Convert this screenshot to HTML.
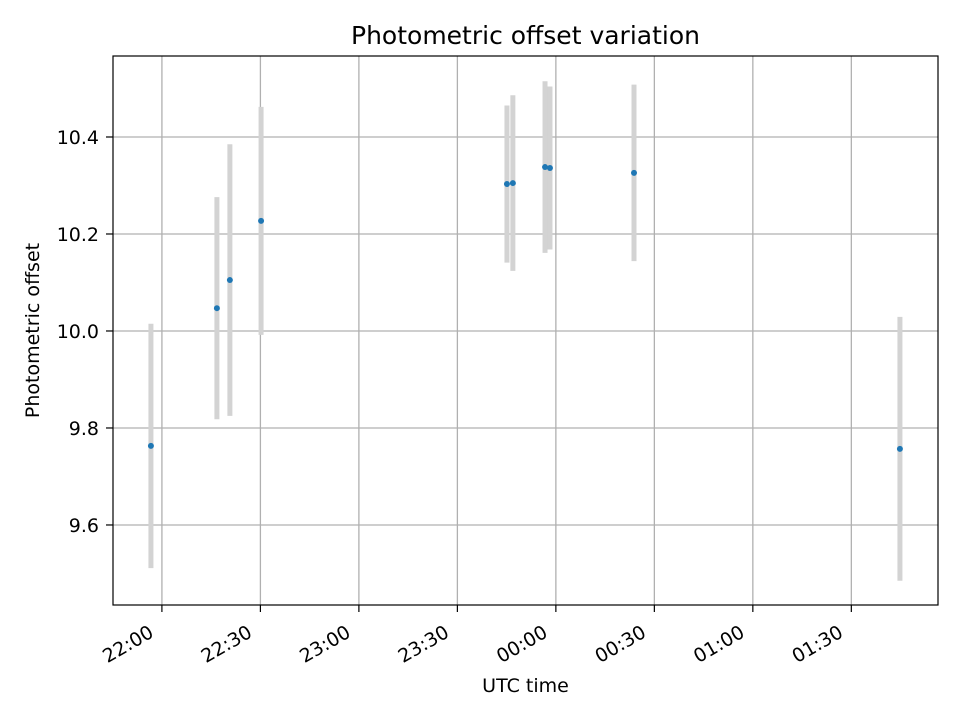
<!DOCTYPE html>
<html><head><meta charset="utf-8"><style>
html,body{margin:0;padding:0;background:#fff;}
svg{display:block;font-family:"DejaVu Sans","Liberation Sans",sans-serif;}
</style></head><body>
<svg id="chart" width="960" height="720" viewBox="0 0 960 720" xmlns="http://www.w3.org/2000/svg"></svg>
<script>
// minutes after 22:00
const times = [-3.35, 16.75, 20.7, 30.2, 105.1, 106.9, 116.7, 118.2, 143.8, 224.8];
const offsets = [9.763, 10.047, 10.105, 10.227, 10.303, 10.305, 10.338, 10.336, 10.326, 9.757];
const errors = [0.252, 0.229, 0.28, 0.235, 0.162, 0.181, 0.177, 0.168, 0.182, 0.272];
const xTickVals = [0, 30, 60, 90, 120, 150, 180, 210];
const xTickLabels = ["22:00","22:30","23:00","23:30","00:00","00:30","01:00","01:30"];
const yTickVals = [9.6, 9.8, 10.0, 10.2, 10.4];
const yTickLabels = ["9.6","9.8","10.0","10.2","10.4"];

const L=113,R=938,T=56,B=605;
const xMin=-14.9,xMax=236.4,yMin=9.435,yMax=10.567;
const sx=v=>L+(v-xMin)/(xMax-xMin)*(R-L);
const sy=v=>B-(v-yMin)/(yMax-yMin)*(B-T);
const svg=document.getElementById('chart');
const NS='http://www.w3.org/2000/svg';
function mk(tag,attrs,parent){const e=document.createElementNS(NS,tag);for(const k in attrs)e.setAttribute(k,attrs[k]);(parent||svg).appendChild(e);return e;}

const grid=mk('g',{});


xTickVals.forEach((v,i)=>{
  const x=sx(v);
  const gl=mk('line',{x1:x,x2:x,y1:T,y2:B,stroke:'#b0b0b0','stroke-width':1.3},grid);
  
  
  const tk=mk('line',{x1:x,x2:x,y1:B,y2:B+7,stroke:'#000','stroke-width':1.2});
  
  
  const px=x-7, py=B+31;
  const t=mk('text',{x:px,y:py,'font-size':19,'text-anchor':'end',transform:`rotate(-30 ${px} ${py})`});
  t.textContent=xTickLabels[i];
  
  
});
yTickVals.forEach((v,i)=>{
  const y=sy(v);
  const gl=mk('line',{x1:L,x2:R,y1:y,y2:y,stroke:'#b0b0b0','stroke-width':1.3},grid);
  
  
  const tk=mk('line',{x1:L-7,x2:L,y1:y,y2:y,stroke:'#000','stroke-width':1.2});
  
  
  const t=mk('text',{x:L-14,y:y+7,'font-size':19,'text-anchor':'end'});
  t.textContent=yTickLabels[i];
  
  
});
times.forEach((tm,i)=>{
  const x=sx(tm);
  const eb=mk('line',{x1:x,x2:x,y1:sy(offsets[i]+errors[i]),y2:sy(offsets[i]-errors[i]),stroke:'#d3d3d3','stroke-width':5});
  
  
});
times.forEach((tm,i)=>{
  const c=mk('circle',{cx:sx(tm),cy:sy(offsets[i]),r:3,fill:'#1f77b4'});
  
  
});
const frame=mk('rect',{x:L,y:T,width:R-L,height:B-T,fill:'none',stroke:'#000','stroke-width':1.2});


const title=mk('text',{x:(L+R)/2,y:44,'font-size':25,'text-anchor':'middle'});
title.textContent='Photometric offset variation';


const xl=mk('text',{x:(L+R)/2,y:692,'font-size':19,'text-anchor':'middle'});
xl.textContent='UTC time';


const yl=mk('text',{x:39,y:(T+B)/2,'font-size':19,'text-anchor':'middle',transform:`rotate(-90 39 ${(T+B)/2})`});
yl.textContent='Photometric offset';


</script>
</body></html>
